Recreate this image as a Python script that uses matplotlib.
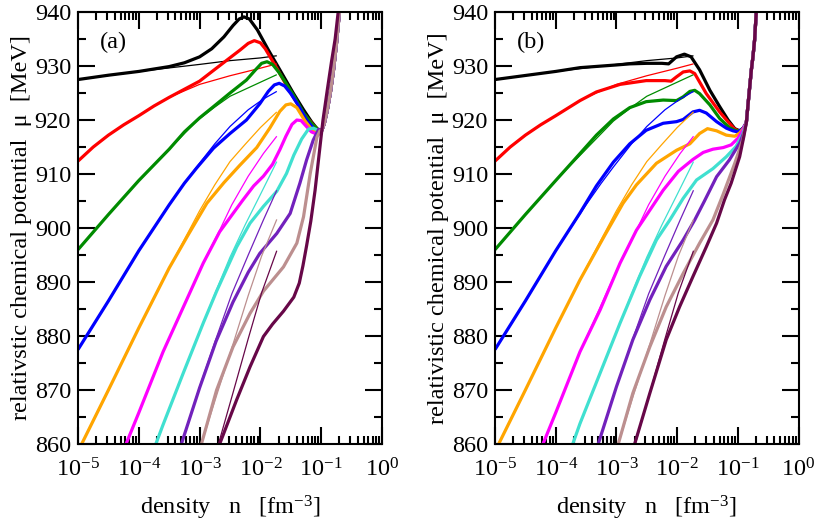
import numpy as np
import matplotlib
matplotlib.use("Agg")
import matplotlib.pyplot as plt
from matplotlib.ticker import LogLocator, MultipleLocator, NullFormatter

plt.rcParams['font.family'] = ['Liberation Serif', 'DejaVu Serif']
plt.rcParams['mathtext.fontset'] = 'custom'
plt.rcParams['mathtext.rm'] = 'Liberation Serif'
plt.rcParams['mathtext.it'] = 'Liberation Serif:italic'

# xmgrace colours: black, red, green4, blue, orange, magenta, turquoise, indigo, brown, maroon
colors = ['#000000', '#ff0000', '#008b00', '#0000ff', '#ffa500',
          '#ff00ff', '#40e0d0', '#7221bc', '#bc8f8f', '#670748']

# points are (log10 n [fm^-3], mu [MeV])
# thin lines, identical in both panels
thin_black = [(-5.0, 927.5), (-4.0, 929.0), (-3.0, 930.3), (-2.5, 931.0), (-2.0, 931.5), (-1.73, 931.9)]
thin_red = [(-5.0, 912.4), (-4.75, 915.0), (-4.5, 917.2), (-4.25, 919.1), (-4.0, 920.8), (-3.75, 922.6),
            (-3.5, 924.2), (-3.0, 926.6), (-2.5, 928.2), (-2.0, 929.6), (-1.73, 930.4)]
thin_green = [(-5.0, 896.0), (-4.5, 902.5), (-4.0, 908.8), (-3.5, 914.6), (-3.05, 919.8), (-2.75, 922.4),
              (-2.5, 924.4), (-2.0, 927.0), (-1.73, 928.4)]
thin_blue = [(-5.0, 877.5), (-4.5, 886.5), (-4.0, 895.8), (-3.5, 904.3), (-3.25, 908.3), (-3.05, 911.3),
             (-2.75, 915.6), (-2.5, 918.8), (-2.2, 921.9), (-1.95, 923.9), (-1.73, 925.3)]
thin_orange = [(-4.94, 860.0), (-4.5, 870.0), (-4.0, 881.5), (-3.5, 892.6), (-3.0, 903.2), (-2.75, 908.0),
               (-2.5, 912.3), (-2.25, 915.5), (-2.0, 918.6), (-1.73, 921.5)]
thin_magenta = [(-4.21, 860.0), (-4.0, 865.8), (-3.6, 877.1), (-3.27, 885.3), (-2.94, 893.6), (-2.67, 899.6),
                (-2.47, 904.3), (-2.2, 909.6), (-1.95, 913.8), (-1.73, 917.0)]
thin_turq = [(-3.72, 860.0), (-3.6, 863.6), (-3.27, 873.1), (-2.94, 882.4), (-2.75, 887.8), (-2.5, 894.6),
             (-2.25, 900.6), (-2.0, 906.2), (-1.73, 912.3)]
thin_purple = [(-3.3, 860.0), (-3.0, 870.6), (-2.73, 879.5), (-2.47, 887.8), (-2.2, 895.0), (-1.95, 901.5),
               (-1.73, 907.0)]
thin_brown = [(-2.97, 860.0), (-2.72, 869.0), (-2.45, 878.5), (-2.2, 887.5), (-1.98, 894.8), (-1.73, 901.6)]
thin_maroon = [(-2.69, 860.0), (-2.45, 869.5), (-2.2, 879.5), (-1.98, 888.0), (-1.73, 895.8)]

# thick lines, panel (a)
a_black = [(-5.0, 927.5), (-4.5, 928.3), (-4.0, 929.0), (-3.5, 929.9), (-3.25, 930.6), (-3.0, 931.7),
           (-2.8, 933.2), (-2.6, 935.4), (-2.45, 937.5), (-2.35, 938.7), (-2.27, 939.1), (-2.18, 938.7),
           (-2.05, 936.7), (-1.87, 933.0), (-1.68, 929.3), (-1.46, 925.0), (-1.29, 921.9), (-1.16, 919.7),
           (-1.06, 918.3)]
a_red = [(-5.0, 912.4), (-4.75, 915.0), (-4.5, 917.2), (-4.25, 919.1), (-4.0, 920.8), (-3.75, 922.6),
         (-3.5, 924.2), (-3.2, 926.0), (-3.0, 927.2), (-2.77, 929.2), (-2.55, 931.1), (-2.33, 933.0),
         (-2.2, 934.2), (-2.1, 934.7), (-2.0, 934.3), (-1.92, 933.2), (-1.73, 929.6), (-1.51, 925.2),
         (-1.29, 921.2), (-1.13, 919.1), (-1.05, 918.2)]
a_green = [(-5.0, 896.0), (-4.5, 902.5), (-4.0, 908.8), (-3.5, 914.6), (-3.25, 917.8), (-3.0, 920.4),
           (-2.77, 922.5), (-2.5, 925.0), (-2.23, 927.4), (-2.08, 929.3), (-1.98, 930.5), (-1.89, 930.8),
           (-1.8, 930.3), (-1.7, 928.9), (-1.6, 927.2), (-1.45, 924.5), (-1.29, 921.3), (-1.16, 919.4),
           (-1.05, 918.2)]
a_blue = [(-5.0, 877.5), (-4.5, 886.5), (-4.0, 895.8), (-3.5, 904.3), (-3.25, 908.3), (-3.05, 911.1),
          (-2.77, 914.8), (-2.5, 917.5), (-2.23, 920.0), (-2.01, 923.0), (-1.87, 925.3), (-1.77, 926.5),
          (-1.69, 926.8), (-1.6, 926.3), (-1.50, 924.9), (-1.38, 922.8), (-1.24, 920.0), (-1.13, 918.5),
          (-1.05, 917.8)]
a_orange = [(-4.94, 860.0), (-4.5, 870.0), (-4.0, 881.5), (-3.5, 892.6), (-3.2, 898.5), (-2.88, 904.6),
            (-2.6, 908.4), (-2.34, 911.6), (-2.06, 914.9), (-1.84, 918.6), (-1.68, 921.6), (-1.58, 922.8),
            (-1.5, 923.0), (-1.40, 922.3), (-1.27, 919.9), (-1.16, 918.3), (-1.05, 917.6)]
a_magenta = [(-4.21, 860.0), (-4.0, 865.8), (-3.6, 877.1), (-3.27, 885.3), (-2.94, 893.5), (-2.67, 899.3),
             (-2.3, 905.0), (-2.11, 907.8), (-1.95, 909.6), (-1.8, 911.8), (-1.68, 914.5), (-1.58, 917.0),
             (-1.48, 919.2), (-1.40, 920.0), (-1.33, 919.9), (-1.25, 918.9), (-1.16, 917.8), (-1.05, 917.3)]
a_turq = [(-3.72, 860.0), (-3.6, 863.6), (-3.27, 873.1), (-2.94, 882.4), (-2.72, 888.3), (-2.39, 896.5),
          (-2.17, 900.9), (-1.95, 904.0), (-1.73, 906.8), (-1.57, 910.1), (-1.45, 913.5), (-1.32, 916.5),
          (-1.21, 918.3), (-1.13, 918.5), (-1.05, 918.1)]
a_purple = [(-3.3, 860.0), (-3.0, 870.4), (-2.73, 879.0), (-2.45, 886.3), (-2.2, 891.8), (-2.01, 895.3),
            (-1.73, 899.0), (-1.51, 902.7), (-1.35, 908.3), (-1.24, 912.6), (-1.13, 916.3), (-1.04, 918.3)]
a_brown = [(-2.97, 860.0), (-2.72, 870.0), (-2.45, 878.0), (-2.17, 884.2), (-1.95, 888.3), (-1.62, 892.8),
           (-1.40, 897.2), (-1.29, 902.1), (-1.18, 910.1), (-1.07, 916.8), (-1.02, 918.0)]
a_maroon = [(-2.67, 860.0), (-2.39, 868.2), (-2.17, 874.3), (-1.95, 879.9), (-1.80, 882.2), (-1.62, 884.6),
            (-1.45, 887.2), (-1.36, 889.8), (-1.30, 893.0), (-1.24, 896.7), (-1.17, 901.3), (-1.10, 907.0),
            (-1.03, 914.0), (-0.97, 920.0), (-0.90, 925.5), (-0.83, 930.8), (-0.77, 935.0), (-0.72, 940.0),
            (-0.66, 946.0)]
tail_a = [(-1.0, 917.8), (-0.95, 919.3), (-0.9, 921.8), (-0.85, 925.0), (-0.8, 929.0), (-0.75, 934.0),
          (-0.7, 940.0), (-0.65, 947.0)]

# thick lines, panel (b)
b_black = [(-5.0, 927.5), (-4.0, 929.0), (-3.6, 929.7), (-3.0, 930.2), (-2.78, 930.4), (-2.5, 930.5),
           (-2.25, 930.5), (-2.14, 930.4), (-2.01, 931.7), (-1.88, 932.2), (-1.77, 931.7), (-1.63, 929.3),
           (-1.46, 925.5), (-1.30, 922.5), (-1.16, 920.0), (-1.05, 918.4), (-0.97, 918.0), (-0.9, 918.6)]
b_red = [(-5.0, 912.4), (-4.75, 915.0), (-4.5, 917.2), (-4.25, 919.1), (-4.0, 920.8), (-3.6, 923.6),
         (-3.33, 925.2), (-2.94, 926.6), (-2.51, 927.3), (-2.2, 927.3), (-2.1, 927.2), (-2.01, 928.0),
         (-1.9, 928.9), (-1.79, 929.1), (-1.71, 928.6), (-1.52, 924.9), (-1.30, 921.5), (-1.14, 919.4),
         (-1.05, 918.3), (-0.97, 917.9), (-0.9, 918.6)]
b_green = [(-5.0, 896.0), (-4.5, 902.5), (-4.0, 908.8), (-3.6, 913.8), (-3.33, 917.2), (-3.05, 920.2),
           (-2.78, 922.3), (-2.51, 923.4), (-2.23, 923.7), (-2.01, 923.6), (-1.90, 924.3), (-1.79, 925.3),
           (-1.71, 925.5), (-1.63, 924.9), (-1.46, 922.8), (-1.30, 920.3), (-1.14, 918.6), (-1.05, 918.1),
           (-0.97, 917.9), (-0.9, 918.6)]
b_blue = [(-5.0, 877.5), (-4.5, 886.5), (-4.0, 895.8), (-3.6, 902.8), (-3.33, 907.8), (-3.05, 912.2),
          (-2.78, 915.6), (-2.51, 918.1), (-2.23, 919.4), (-2.01, 919.7), (-1.90, 920.1), (-1.74, 921.5),
          (-1.63, 921.8), (-1.52, 921.3), (-1.35, 919.7), (-1.19, 918.5), (-1.08, 918.0), (-1.0, 917.8),
          (-0.92, 918.4)]
b_orange = [(-4.94, 860.0), (-4.5, 870.0), (-4.0, 881.5), (-3.6, 890.4), (-3.2, 898.5), (-2.89, 904.6),
            (-2.67, 908.0), (-2.34, 912.0), (-2.01, 914.4), (-1.79, 915.6), (-1.63, 917.5), (-1.5, 918.4),
            (-1.35, 918.0), (-1.19, 917.2), (-1.05, 917.0), (-0.97, 917.6), (-0.9, 918.6)]
b_magenta = [(-4.21, 860.0), (-4.0, 865.8), (-3.6, 877.1), (-3.27, 884.8), (-2.94, 893.5), (-2.67, 899.6),
             (-2.45, 903.3), (-2.23, 907.0), (-1.98, 910.5), (-1.74, 912.7), (-1.57, 914.0), (-1.41, 914.6),
             (-1.24, 914.9), (-1.11, 915.4), (-1.0, 916.6), (-0.92, 918.1)]
b_turq = [(-3.72, 860.0), (-3.6, 863.8), (-3.27, 873.1), (-2.94, 882.4), (-2.62, 891.0), (-2.34, 897.8),
          (-2.12, 901.5), (-1.9, 905.5), (-1.68, 908.9), (-1.41, 911.0), (-1.19, 913.2), (-1.03, 915.1),
          (-0.92, 917.4)]
b_purple = [(-3.3, 860.0), (-3.0, 870.6), (-2.73, 879.3), (-2.45, 886.7), (-2.18, 892.9), (-1.90, 897.8),
            (-1.71, 901.5), (-1.55, 905.0), (-1.35, 909.5), (-1.14, 912.6), (-0.97, 915.7), (-0.89, 918.0)]
b_brown = [(-2.97, 860.0), (-2.73, 869.4), (-2.45, 878.0), (-2.18, 885.4), (-1.90, 891.6), (-1.63, 897.2),
           (-1.41, 901.5), (-1.24, 906.3), (-1.05, 912.0), (-0.92, 916.3), (-0.88, 918.5)]
b_maroon = [(-2.70, 860.0), (-2.45, 869.4), (-2.18, 879.3), (-1.96, 885.4), (-1.74, 891.0), (-1.52, 896.5),
            (-1.35, 900.9), (-1.22, 905.2), (-1.11, 908.3), (-0.97, 913.2), (-0.9, 917.0)]
tail_b = [(-0.86, 919.5), (-0.81, 925.5), (-0.775, 929.5), (-0.75, 931.8), (-0.724, 934.8),
          (-0.696, 940.0), (-0.67, 946.0)]

thin_lines = [thin_black, thin_red, thin_green, thin_blue, thin_orange,
              thin_magenta, thin_turq, thin_purple, thin_brown, thin_maroon]
thick_a = [a_black, a_red, a_green, a_blue, a_orange, a_magenta, a_turq, a_purple, a_brown, a_maroon]
thick_b = [b_black, b_red, b_green, b_blue, b_orange, b_magenta, b_turq, b_purple, b_brown, b_maroon]


def with_tail(pts, tail):
    last = pts[-1][0]
    return pts + [p for p in tail if p[0] > last]


def draw(ax, pts, color, lw):
    arr = np.array(pts)
    ax.plot(10.0 ** arr[:, 0], arr[:, 1], color=color, lw=lw,
            solid_capstyle='butt', solid_joinstyle='round')


fs = 17.5
fig = plt.figure(figsize=(8.17, 5.23), dpi=100)
ax_a = fig.add_axes([0.0955, 0.151, 0.372, 0.826])
ax_b = fig.add_axes([0.6059, 0.151, 0.3715, 0.826])

panels = [(ax_a, thick_a, tail_a, '(a)', 'relativstic chemical potential  \u03bc  [MeV]'),
          (ax_b, thick_b, tail_b, '(b)', 'relativistic chemical potential  \u03bc  [MeV]')]

for ax, thick, tail, tag, ylab in panels:
    for i in range(10):
        pts = thick[i]
        if i != 9 or tail is tail_b:
            pts = with_tail(pts, tail)
        draw(ax, pts, colors[i], 2.3)
        draw(ax, thin_lines[i], colors[i], 0.9)

    ax.set_xscale('log')
    ax.set_xlim(1e-5, 1)
    ax.set_ylim(860, 940)
    ax.xaxis.set_major_locator(LogLocator(base=10, numticks=10))
    ax.xaxis.set_minor_locator(LogLocator(base=10, subs=np.arange(2, 10), numticks=20))
    ax.xaxis.set_minor_formatter(NullFormatter())
    ax.yaxis.set_major_locator(MultipleLocator(10))
    ax.yaxis.set_minor_locator(MultipleLocator(5))
    ax.tick_params(which='both', direction='in', top=True, right=True, width=1.5, labelsize=fs)
    ax.tick_params(which='major', length=12)
    ax.tick_params(which='minor', length=6)
    ax.tick_params(axis='x', pad=10)
    ax.tick_params(axis='y', pad=5)
    for s in ax.spines.values():
        s.set_linewidth(1.5)
    ax.set_xlabel('density   n   [fm$^{-3}$]', fontsize=fs, labelpad=9)
    ax.set_ylabel(ylab, fontsize=fs, labelpad=2)
    ax.text(0.072, 0.955, tag, transform=ax.transAxes, fontsize=fs, va='top', ha='left')

fig.savefig('out.png', dpi=100)
